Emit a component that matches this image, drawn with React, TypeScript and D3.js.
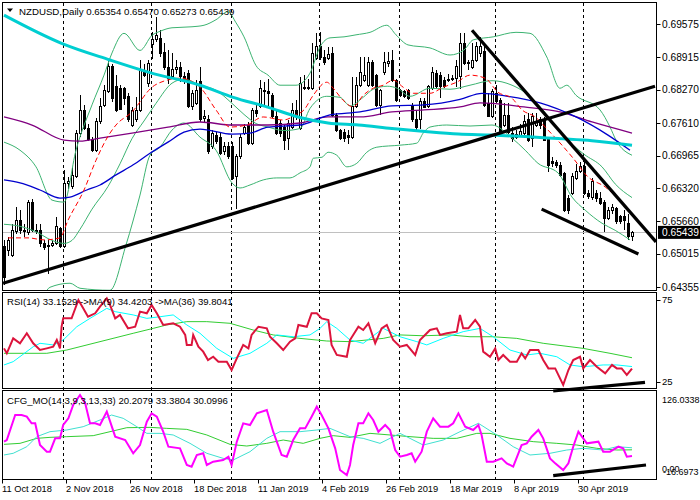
import * as d3 from "d3";

type Pt = [number, number];

// daily candles, NZDUSD: [open, high, low, close]
const candles: [number, number, number, number][] = [
  [0.6515, 0.6528, 0.6439, 0.6455], [0.6508, 0.6535, 0.6498, 0.6528], [0.6498, 0.6561, 0.6495, 0.6548],
  [0.6545, 0.6594, 0.6541, 0.6568], [0.6568, 0.6588, 0.6541, 0.6548], [0.6548, 0.6561, 0.6535, 0.6545],
  [0.6543, 0.6608, 0.6538, 0.6604], [0.6604, 0.6611, 0.6545, 0.6548], [0.6548, 0.6561, 0.6541, 0.6545],
  [0.6548, 0.6561, 0.6515, 0.6522], [0.6522, 0.6528, 0.6508, 0.6514], [0.6515, 0.6528, 0.6462, 0.6518],
  [0.6518, 0.6528, 0.6515, 0.6522], [0.6522, 0.6575, 0.6518, 0.6555], [0.6551, 0.6555, 0.6512, 0.6515],
  [0.6515, 0.6667, 0.6512, 0.6641], [0.6641, 0.6654, 0.6631, 0.6644], [0.6634, 0.6674, 0.6631, 0.6657],
  [0.6654, 0.6747, 0.6651, 0.674], [0.674, 0.6816, 0.6733, 0.6786], [0.6786, 0.6796, 0.6747, 0.675],
  [0.675, 0.676, 0.6725, 0.6728], [0.6728, 0.6733, 0.6704, 0.6707], [0.6707, 0.677, 0.6704, 0.6763],
  [0.6763, 0.681, 0.676, 0.6793], [0.6796, 0.6836, 0.6793, 0.6826], [0.6823, 0.6886, 0.682, 0.6874],
  [0.6874, 0.6879, 0.6803, 0.681], [0.6833, 0.6856, 0.6783, 0.6786], [0.6829, 0.6836, 0.6786, 0.6788],
  [0.6829, 0.6833, 0.6796, 0.681], [0.6813, 0.682, 0.6763, 0.6767], [0.6757, 0.6793, 0.6753, 0.6786],
  [0.6767, 0.6813, 0.6763, 0.6786], [0.6786, 0.6886, 0.6783, 0.6866], [0.6866, 0.6879, 0.6853, 0.6856],
  [0.6839, 0.6886, 0.6833, 0.6879], [0.6916, 0.6942, 0.6889, 0.6927], [0.6926, 0.6972, 0.6922, 0.6934],
  [0.6929, 0.6945, 0.6892, 0.6898], [0.69, 0.6919, 0.6867, 0.6871], [0.6871, 0.6906, 0.6839, 0.6849],
  [0.6853, 0.6899, 0.6849, 0.6867], [0.6867, 0.6886, 0.6859, 0.6871], [0.6872, 0.6882, 0.6843, 0.6853],
  [0.6854, 0.6862, 0.6839, 0.6846], [0.6859, 0.6866, 0.679, 0.6793], [0.6793, 0.6826, 0.6786, 0.682],
  [0.68, 0.6846, 0.6796, 0.6826], [0.6843, 0.6872, 0.6763, 0.6767], [0.677, 0.6786, 0.6763, 0.6773],
  [0.6767, 0.6776, 0.67, 0.6704], [0.6714, 0.6747, 0.671, 0.674], [0.6737, 0.6743, 0.672, 0.6724],
  [0.6733, 0.6743, 0.6697, 0.67], [0.6704, 0.6724, 0.6697, 0.6714], [0.6714, 0.6724, 0.669, 0.6694],
  [0.6714, 0.6724, 0.6647, 0.6651], [0.6654, 0.67, 0.6591, 0.6694], [0.6694, 0.674, 0.669, 0.6733],
  [0.674, 0.676, 0.6737, 0.6753], [0.6757, 0.6763, 0.6717, 0.672], [0.672, 0.679, 0.6717, 0.6786],
  [0.6786, 0.6796, 0.6773, 0.678], [0.6793, 0.6846, 0.679, 0.6829], [0.6826, 0.6843, 0.6796, 0.6823],
  [0.6823, 0.6849, 0.6793, 0.682], [0.6816, 0.682, 0.677, 0.6773], [0.6773, 0.6786, 0.6737, 0.674],
  [0.676, 0.6767, 0.6733, 0.674], [0.6753, 0.676, 0.6707, 0.6727], [0.673, 0.6767, 0.6707, 0.676],
  [0.6753, 0.68, 0.675, 0.6786], [0.6786, 0.6806, 0.6767, 0.6773], [0.675, 0.6853, 0.6747, 0.6839],
  [0.6831, 0.6856, 0.6826, 0.6829], [0.6829, 0.6849, 0.6826, 0.6831], [0.6829, 0.6919, 0.6826, 0.6899],
  [0.6889, 0.6939, 0.6886, 0.6912], [0.6912, 0.6942, 0.6886, 0.6892], [0.6892, 0.6906, 0.6876, 0.6882],
  [0.6889, 0.6912, 0.6886, 0.6896], [0.6899, 0.6912, 0.6773, 0.6776], [0.6776, 0.678, 0.6743, 0.6747],
  [0.6747, 0.675, 0.6727, 0.673], [0.6743, 0.675, 0.6724, 0.673], [0.6737, 0.6747, 0.672, 0.6732],
  [0.6733, 0.6853, 0.673, 0.6793], [0.6793, 0.6853, 0.679, 0.6836], [0.6836, 0.6892, 0.6833, 0.6862],
  [0.6846, 0.6892, 0.6843, 0.6856], [0.6836, 0.6892, 0.6833, 0.6882], [0.6882, 0.6886, 0.6833, 0.6836],
  [0.6856, 0.6859, 0.6793, 0.6796], [0.6796, 0.6829, 0.6776, 0.6826], [0.6862, 0.6902, 0.6856, 0.6882],
  [0.6879, 0.6902, 0.6872, 0.6884], [0.6886, 0.6906, 0.6843, 0.6846], [0.6846, 0.6849, 0.6803, 0.6806],
  [0.6826, 0.6829, 0.6813, 0.6816], [0.6823, 0.6826, 0.681, 0.6813], [0.6826, 0.6829, 0.6806, 0.681],
  [0.6796, 0.68, 0.6763, 0.6767], [0.6767, 0.6786, 0.6747, 0.6753], [0.6767, 0.681, 0.675, 0.6803],
  [0.6803, 0.681, 0.679, 0.6792], [0.6793, 0.6836, 0.679, 0.6833], [0.6829, 0.6872, 0.6826, 0.6862],
  [0.6859, 0.6866, 0.6829, 0.6833], [0.6856, 0.6862, 0.681, 0.6833], [0.6846, 0.6853, 0.6831, 0.6833],
  [0.6846, 0.6859, 0.6843, 0.6848], [0.6847, 0.6856, 0.6845, 0.6849], [0.6849, 0.6886, 0.6833, 0.6874],
  [0.6853, 0.6939, 0.6829, 0.6919], [0.6919, 0.6939, 0.6876, 0.6879], [0.6879, 0.6886, 0.6866, 0.6882],
  [0.6872, 0.6919, 0.6869, 0.6886], [0.6886, 0.6922, 0.6882, 0.6912], [0.6899, 0.6932, 0.6892, 0.6912],
  [0.6902, 0.6919, 0.6793, 0.6796], [0.68, 0.682, 0.6772, 0.6773], [0.6773, 0.6829, 0.677, 0.6823],
  [0.682, 0.6836, 0.68, 0.6803], [0.6806, 0.681, 0.6739, 0.674], [0.6757, 0.68, 0.6753, 0.6776],
  [0.6776, 0.68, 0.674, 0.6743], [0.674, 0.6753, 0.6724, 0.673], [0.6739, 0.6747, 0.673, 0.6733],
  [0.6737, 0.676, 0.6733, 0.6745], [0.674, 0.6776, 0.6737, 0.6763], [0.6767, 0.678, 0.6724, 0.6727],
  [0.673, 0.678, 0.6714, 0.6773], [0.6757, 0.678, 0.6753, 0.6763], [0.6767, 0.6773, 0.675, 0.6757],
  [0.6767, 0.6773, 0.6725, 0.6727], [0.673, 0.6733, 0.6664, 0.6677], [0.6684, 0.6694, 0.6674, 0.668],
  [0.6682, 0.6687, 0.6671, 0.6677], [0.6677, 0.6684, 0.6654, 0.6657], [0.6661, 0.6664, 0.6584, 0.6588],
  [0.6611, 0.6618, 0.6581, 0.6588], [0.6621, 0.6661, 0.6618, 0.6654], [0.6651, 0.668, 0.6647, 0.6664],
  [0.6664, 0.6684, 0.6661, 0.6674], [0.6674, 0.6684, 0.6618, 0.6621], [0.6621, 0.6628, 0.6611, 0.6616],
  [0.6614, 0.6651, 0.6608, 0.6644], [0.6621, 0.6628, 0.6604, 0.6611], [0.6611, 0.6624, 0.6598, 0.6601],
  [0.6604, 0.6608, 0.6545, 0.6571], [0.6571, 0.6594, 0.6568, 0.6588], [0.6588, 0.6601, 0.6581, 0.6594],
  [0.6591, 0.6594, 0.6561, 0.6565], [0.6575, 0.6578, 0.6561, 0.6565], [0.6575, 0.6588, 0.6548, 0.6568],
  [0.6561, 0.6581, 0.6528, 0.6535], [0.65354, 0.6547, 0.65273, 0.65439],
];

// moving averages, read at [bar, price]
const maCyan: Pt[] = [
  [0, 0.6975], [14.4, 0.6919], [26.5, 0.6886], [36.5, 0.6861], [49, 0.6836], [57.3, 0.6812],
  [65.7, 0.6793], [74, 0.6772], [81, 0.6761], [88.6, 0.6757], [97, 0.675], [105.3, 0.6744],
  [113.6, 0.6739], [122, 0.6737], [130.3, 0.6734], [138.6, 0.673], [147, 0.6726], [157, 0.6717],
];
const maPurple: Pt[] = [
  [0, 0.6773], [7, 0.6757], [15, 0.6727], [19, 0.6725], [24, 0.6731], [32, 0.6741], [41, 0.6753],
  [49, 0.6763], [57, 0.6757], [66, 0.6757], [74, 0.6761], [81, 0.6773], [89, 0.6773], [97, 0.6783],
  [105, 0.6787], [114, 0.6793], [119, 0.6801], [130, 0.6793], [139, 0.6783], [147, 0.6763], [157, 0.6741],
];
const maBlue: Pt[] = [
  [0, 0.6648], [4, 0.6642], [9, 0.6628], [14, 0.6612], [16.5, 0.6614], [20.7, 0.6628], [24, 0.6638],
  [28, 0.6658], [32.3, 0.6678], [36.5, 0.6701], [41, 0.6723], [45, 0.6743], [49, 0.6749], [57, 0.6739],
  [61.5, 0.6741], [66, 0.6753], [74, 0.6757], [81.5, 0.6777], [89, 0.6783], [97, 0.6795], [105, 0.6797],
  [114, 0.6808], [119.5, 0.682], [126, 0.6814], [134, 0.6801], [143, 0.6773], [151, 0.6737], [156.5, 0.6707],
];
const maRed: Pt[] = [
  [1, 0.6533], [6, 0.6533], [10, 0.6529], [14, 0.6533], [16, 0.6568], [20, 0.6628], [23, 0.6687],
  [26.5, 0.6741], [28, 0.6757], [32, 0.6783], [37, 0.6832], [40.7, 0.6846], [44, 0.685], [49, 0.6832],
  [53, 0.6787], [56.5, 0.6753], [60.7, 0.6757], [64.8, 0.6773], [69.8, 0.6767], [73, 0.6777],
  [75, 0.6787], [77.3, 0.6816], [80.7, 0.6842], [82.3, 0.683], [84.8, 0.6806], [87.3, 0.6793],
  [89.8, 0.6816], [92.3, 0.683], [94.8, 0.6836], [97.3, 0.6846], [99.8, 0.6832], [102.3, 0.682],
  [106.5, 0.682], [109.8, 0.6832], [113.2, 0.6842], [116.5, 0.6856], [120.3, 0.685], [123.5, 0.6822],
  [127, 0.681], [129.5, 0.6787], [132.8, 0.6773], [136, 0.6747], [139.5, 0.6717], [142.3, 0.6691],
  [146, 0.6654], [150.3, 0.6634], [156, 0.6588],
];

// Bollinger bands
const bbUpper: Pt[] = [
  [0, 0.6723], [4, 0.6707], [8, 0.6674], [12, 0.6608], [15, 0.6604], [18, 0.6707], [22, 0.6797],
  [25, 0.6856], [27, 0.69], [30, 0.6939], [34, 0.6905], [37, 0.6935], [39, 0.6943], [42, 0.6950],
  [47, 0.6952], [50, 0.6955], [53, 0.6966], [56, 0.6982], [58, 0.696], [60, 0.6932], [63, 0.6875],
  [66, 0.6856], [69, 0.6836], [73, 0.6836], [76.5, 0.686],
  [79, 0.6912], [81.5, 0.693], [85, 0.6932], [88, 0.6936], [91.5, 0.6941], [95.7, 0.6955], [98, 0.6936],
  [101, 0.6916], [106.5, 0.691], [111.5, 0.6896], [115, 0.6906], [117.3, 0.6926], [122.3, 0.6932],
  [128, 0.6941], [131.5, 0.6939], [135.7, 0.6892], [139, 0.683], [140.7, 0.6836], [143, 0.6816],
  [149, 0.6787], [151.5, 0.6753], [153, 0.6727], [157, 0.6697],
];
const bbMiddle: Pt[] = [
  [0, 0.656], [4, 0.6556], [8, 0.6545], [12, 0.6528], [15, 0.6522], [17, 0.6528], [19, 0.655],
  [22, 0.659], [26, 0.6635], [29, 0.668], [32, 0.673], [35, 0.6765], [38, 0.68], [42, 0.684],
  [45, 0.6848], [49, 0.6836], [53, 0.6826], [57, 0.68], [60, 0.6778], [63, 0.676], [66, 0.6753],
  [70, 0.6746], [74, 0.675], [76.5, 0.679], [80.7, 0.6814], [84, 0.6812], [86.5, 0.6795], [89.8, 0.6812],
  [92.3, 0.6828], [95.8, 0.6834], [98.3, 0.683], [101.5, 0.6814], [106.5, 0.683], [111.5, 0.6828],
  [116.5, 0.6836], [122, 0.6845], [127, 0.6836], [130, 0.6823], [133.5, 0.6798], [138.5, 0.6748],
  [142, 0.6719], [145, 0.6699], [149.5, 0.6674], [152.8, 0.664], [157, 0.6613],
];
const bbLower: Pt[] = [
  [0, 0.638], [8, 0.6395], [11.5, 0.6435], [16.5, 0.6443], [19, 0.6433], [26.5, 0.6429], [30.5, 0.6519],
  [34, 0.6618], [36.5, 0.6697], [39, 0.6713], [42, 0.6747], [45, 0.6761], [49, 0.6733], [53, 0.6707],
  [57, 0.6642], [59, 0.6632], [61.5, 0.6638], [64.8, 0.6648], [68.2, 0.6652], [71.5, 0.6652], [74, 0.6662],
  [76.5, 0.6674], [77.3, 0.6691], [79.5, 0.6693], [81, 0.6703], [83.2, 0.6697], [85.7, 0.6674],
  [88.2, 0.6681], [90.7, 0.6703], [93.2, 0.6713], [99, 0.6717], [103.2, 0.6721], [104.8, 0.6741],
  [106.5, 0.6753], [110.7, 0.6757], [116.5, 0.6755], [122, 0.6757], [127, 0.6731], [130.3, 0.6707],
  [133.5, 0.6681], [138.5, 0.6662], [142, 0.6614], [145.3, 0.6588], [149.5, 0.6562], [152.8, 0.6548],
  [156.5, 0.6529],
];

// RSI(14) with its MA(9) and MA(36)
const rsi: Pt[] = [
  [0, 45.5], [0.7, 42.5], [2.3, 51.6], [4, 48.6], [5.7, 54.7], [7.3, 48.6], [9, 44.5], [10.7, 45.5],
  [12.3, 46.5], [13.2, 50.6], [14, 45.5], [14.4, 58.7], [14.8, 63.8], [16.9, 63.8], [18.6, 75], [19.8, 69.9],
  [21, 64.8], [22.8, 66.9], [24, 70.9], [25.7, 76], [26.5, 72], [27.8, 63.8], [29, 65.9], [31, 57.7],
  [32.8, 58.7], [34, 67.9], [35.7, 66.9], [36.9, 72], [38.2, 66.9], [39.8, 59.8], [42.3, 60.8], [44, 58.7],
  [45.3, 53.7], [45.7, 47.6], [46.9, 47.6], [47.3, 53.7], [48.6, 46.5], [49.8, 43.5], [51, 38.4], [52.3, 40.4],
  [53.6, 37.4], [55.7, 37.4], [56.9, 32.3], [58.2, 39.4], [59.8, 47.6], [61.1, 45.5], [61.9, 53.7], [63.6, 58.7],
  [65.7, 57.7], [66.5, 52.6], [68.2, 48.6], [69.8, 44.5], [71.5, 49.6], [72.8, 51.6], [73.6, 59.8], [75.7, 58.7],
  [76.9, 66.9], [78.2, 66.9], [79.4, 63.8], [81.1, 62.8], [81.9, 47.6], [83.2, 41.5], [85.7, 40.4], [86.5, 50.6],
  [88.6, 58.7], [89.8, 56.7], [91.1, 60.8], [92.8, 48.6], [94.4, 57.7], [95.7, 59.8], [97.3, 50.6], [99, 46.5],
  [100.7, 47.6], [102.8, 41.5], [104, 50.6], [106.5, 56.7], [108.2, 57.7], [109, 53.7], [110.7, 54.7],
  [113.2, 55.7], [114, 65.9], [114.8, 57.7], [116.1, 57.7], [117.8, 62.8], [119, 58.7], [119.8, 43.5],
  [121.5, 40.4], [122.8, 45.5], [123.6, 38.4], [124.8, 41.5], [126.5, 37.4], [128.2, 37.4], [129.4, 42.5],
  [130.3, 39.4], [131.5, 44.5], [133.6, 44.5], [134.8, 38.4], [136.1, 33.3], [137.8, 33.3], [139.8, 23.2],
  [141.1, 32.3], [142.3, 38.4], [144, 40.4], [144.8, 33.3], [146.5, 38.4], [148.2, 34.3], [150.3, 30.3],
  [152, 35.4], [153.2, 33.3], [154.4, 33.3], [155.7, 29.3], [157, 33.15],
];
const rsiMa9: Pt[] = [
  [0, 35.4], [2.3, 37.4], [7.3, 46.5], [9, 48.6], [12.3, 47.6], [14.8, 50.6], [18.2, 58.7], [21.5, 63.8],
  [25.7, 69.9], [27.8, 67.9], [32.3, 65.9], [35.7, 63.8], [39, 64.8], [42.3, 65.9], [45.7, 59.8], [49, 54.7],
  [53.2, 45.5], [57.3, 39.4], [61.5, 42.5], [65.7, 48.6], [68.2, 53.7], [72.3, 52.6], [76.5, 53.7], [79, 57.7],
  [80.7, 61.8], [83.2, 57.7], [86.5, 50.6], [89.8, 48.6], [94.8, 57.7], [99, 52.6], [103.2, 49.6], [105.7, 47.6],
  [109.8, 51.6], [114.8, 55.7], [119, 57.7], [122.3, 52.6], [126.5, 44.5], [130.7, 41.5], [134, 42.5],
  [138.2, 40.4], [141.5, 35.4], [144.8, 34.3], [149.8, 35.4], [153.2, 35.4], [157, 34.42],
];
const rsiMa36: Pt[] = [
  [0, 42.5], [10.7, 42.5], [15.7, 44.5], [24, 49.6], [32.3, 54.7], [37.3, 57.7], [40.7, 59.8], [45.7, 61.8],
  [50.7, 61.8], [56.5, 60.8], [62.3, 56.7], [67.3, 53.7], [74, 51.6], [80.7, 50], [86.5, 49.6], [94.8, 51.6],
  [99, 53.7], [104.8, 53.2], [111.5, 53.7], [116.5, 52.6], [122.3, 52.6], [128.2, 51.6], [134.8, 48.6],
  [144.8, 45.5], [151.5, 42.5], [157, 39.8],
];

// CFG_MO(14,3,9,3,13,33) and its two signal lines
const mo: Pt[] = [
  [0, 43.2], [0.7, 45.8], [2.8, 85.9], [4.4, 85.9], [5.7, 83.3], [6.9, 72.6], [7.8, 72.6], [9, 37.8],
  [10.7, 27.1], [11.5, 27.1], [12.8, 48.5], [14, 48.5], [14.8, 69.9], [16.1, 80.6], [17.3, 102], [19, 118],
  [20.3, 104.6], [21.5, 72.6], [22.8, 72.6], [24, 69.9], [25.7, 91.3], [27.8, 51.2], [30.3, 45.8], [32.3, 24.5],
  [34, 37.8], [35.7, 75.2], [36.9, 88.6], [38.2, 83.3], [39.8, 59.2], [41.1, 35.1], [44, 32.5], [45.7, 5.8],
  [46.9, 3.1], [48.2, 21.8], [49.8, 24.5], [50.7, 5.8], [52.3, 11.1], [54.8, 13.8], [56.1, 19.1], [56.9, 5.8],
  [58.2, 43.2], [59.8, 72.6], [61.5, 69.9], [63.2, 88.6], [65.7, 93.9], [67.3, 59.2], [69.4, 21.8], [70.7, 19.1],
  [72.3, 45.8], [74, 64.5], [75.3, 64.5], [76.9, 83.3], [78.2, 99.3], [79.4, 85.9], [81.1, 64.5], [82.8, 32.5],
  [84, -2.3], [85.7, -10.3], [86.5, 5.8], [87.3, 37.8], [88.6, 72.6], [89.8, 72.6], [91.1, 88.6], [92.3, 77.9],
  [93.6, 59.2], [95.3, 69.9], [96.5, 61.9], [97.8, 29.8], [99, 19.1], [100.7, 21.8], [101.9, 24.5],
  [102.8, 11.1], [104.4, 27.1], [105.7, 59.2], [107.3, 80.6], [109, 67.2], [111.1, 67.2], [112.3, 72.6],
  [113.6, 88.6], [115.3, 67.2], [117.3, 61.9], [118.6, 69.9], [119.4, 53.9], [120.7, 11.1], [122.3, 11.1],
  [124.4, 16.4], [125.7, 8.4], [127.3, 3.1], [128.6, 24.5], [129.4, 37.8], [130.7, 40.5], [131.9, 51.2],
  [133.6, 61.9], [134.8, 48.5], [136.5, 16.4], [137.8, 8.4], [139.8, -2.3], [141.1, 8.4], [142.3, 35.1],
  [143.6, 59.2], [144.8, 48.5], [145.7, 40.5], [148.6, 43.2], [149.8, 27.1], [151.5, 27.1], [153.6, 35.1],
  [154.8, 32.5], [155.7, 19.1], [157, 20.21],
];
const moSignal: Pt[] = [
  [0, 21.8], [2.3, 24.5], [5.7, 35.1], [8.2, 51.2], [11.5, 59.2], [15.7, 61.9], [19.8, 67.2], [24, 77.9],
  [26.9, 85.9], [29.8, 80.6], [33.2, 67.2], [35.7, 56.5], [39, 56.5], [42.3, 53.9], [46.5, 40.5], [50.7, 24.5],
  [54.8, 16.4], [57.3, 13.8], [61.5, 27.1], [65.7, 48.5], [69, 59.2], [74, 59.2], [78.2, 61.9], [81.5, 64.5],
  [86.5, 51.2], [89.8, 48.5], [94, 40.5], [99, 56.5], [104.8, 37.8], [109.8, 45.8], [114, 59.2], [118.6, 72.6],
  [123.2, 53.9], [127.3, 35.1], [131.5, 21.8], [136.5, 24.5], [140.7, 29.8], [144.8, 32.5], [149.8, 29.8],
  [153.2, 35.1], [157, 33.38],
];
const moSlow: Pt[] = [
  [0, 38.9], [4, 40.5], [8.2, 48.5], [11.5, 50.1], [15.7, 51.2], [22.3, 52.8], [26.5, 59.2], [30.7, 65.6],
  [36.5, 66.1], [40.7, 64.5], [45.7, 62.9], [50.7, 53.9], [56.5, 38.9], [60.7, 36.2], [65.7, 40.5],
  [69.8, 45.8], [74.8, 40.5], [79, 48.5], [82.3, 52.8], [86.5, 50.1], [91.5, 56.5], [96.5, 53.9],
  [101.5, 51.2], [107.3, 48.5], [113.2, 48.5], [118.2, 56.5], [121.5, 56.5], [126.5, 48.5], [132.3, 43.2],
  [138.2, 40.5], [143.2, 37.8], [148.2, 32.5], [153.2, 29.8], [157, 30.1],
];

// hand-drawn trend lines: [[bar, value], [bar, value]]
const priceTrends: [Pt, Pt][] = [
  [[-0.25, 0.6443], [162.75, 0.6834]],
  [[117, 0.6945], [163, 0.6525]],
  [[134.4, 0.659], [158.6, 0.6501]],
];
const rsiTrend: [Pt, Pt] = [[137.3, 19.5], [160.25, 24.8]];
const moTrend: [Pt, Pt] = [[137.3, -11.4], [160.5, 5.75]];

const priceTicks = [0.69575, 0.68915, 0.6827, 0.6761, 0.66965, 0.6632, 0.6566, 0.65015, 0.64355];
const rsiTicks = [75, 25];
const moTop = 126.0338;
const moBottom = -16.6973;
const dateLabels: [number, string][] = [
  [0, "11 Oct 2018"], [16, "2 Nov 2018"], [32, "26 Nov 2018"], [48, "18 Dec 2018"], [64, "11 Jan 2019"],
  [80, "4 Feb 2019"], [96, "26 Feb 2019"], [112, "18 Mar 2019"], [128, "8 Apr 2019"], [144, "30 Apr 2019"],
];
const monthGrid = [15, 37, 57, 79, 99, 123, 145];
const lastPrice = 0.65439;

const W = 700;
const H = 500;
const L = 2.5;
const R = 656.5;
const mainP = { top: 2.5, bottom: 290.5 };
const rsiP = { top: 292.5, bottom: 388.5 };
const moP = { top: 390.5, bottom: 479.5 };
const FONT = "Liberation Sans, Arial, sans-serif";

export default function App() {
  const x = d3.scaleLinear().domain([0, 157]).range([4, 632]);
  const yMain = d3.scaleLinear().domain([0.64355, 0.69575]).range([287, 24]);
  const yRsi = d3.scaleLinear().domain([25, 75]).range([382, 300]);
  const yMo = d3.scaleLinear().domain([moBottom, moTop]).range([479, 390]);

  const smooth = (ys: d3.ScaleLinear<number, number>) =>
    d3.line<Pt>().x((d) => x(d[0])).y((d) => ys(d[1])).curve(d3.curveMonotoneX);
  const straight = (ys: d3.ScaleLinear<number, number>) =>
    d3.line<Pt>().x((d) => x(d[0])).y((d) => ys(d[1]));

  const pm = smooth(yMain);
  const seg = straight(yMain);
  const fmt5 = d3.format(".5f");
  const crisp = (v: number) => Math.round(v) + 0.5;

  return (
    <div style={{ position: "fixed", left: 0, top: 0 }}>
      <svg width={W} height={H} style={{ display: "block", background: "#fff" }} fontFamily={FONT}>
        <defs>
          <clipPath id="clipMain">
            <rect x={L} y={mainP.top} width={R - L} height={mainP.bottom - mainP.top} />
          </clipPath>
        </defs>

        {/* month separators */}
        {monthGrid.map((b) => {
          const gx = Math.round(x(b)) - 0.5;
          return (
            <line key={b} x1={gx} x2={gx} y1={mainP.top} y2={moP.bottom} stroke="#000"
              strokeDasharray="3,3" shapeRendering="crispEdges" />
          );
        })}

        <line x1={L} x2={R} y1={crisp(yMain(lastPrice))} y2={crisp(yMain(lastPrice))} stroke="#c0c0c0" />

        <g clipPath="url(#clipMain)">
          {candles.map(([o, h, l, c], i) => {
            const px = crisp(x(i));
            const up = c >= o;
            const top = yMain(Math.max(o, c));
            const bot = yMain(Math.min(o, c));
            return (
              <g key={i} shapeRendering="crispEdges">
                <line x1={px} x2={px} y1={yMain(h)} y2={yMain(l)} stroke="#000" />
                <rect x={px - 1} y={top} width={2} height={Math.max(bot - top, 0.01)}
                  fill={up ? "#fff" : "#000"} stroke="#000" />
              </g>
            );
          })}

          <path d={pm(bbUpper) ?? ""} fill="none" stroke="#3cb371" strokeWidth={1} />
          <path d={pm(bbMiddle) ?? ""} fill="none" stroke="#3cb371" strokeWidth={1} />
          <path d={pm(bbLower) ?? ""} fill="none" stroke="#3cb371" strokeWidth={1} />
          <path d={pm(maPurple) ?? ""} fill="none" stroke="#800080" strokeWidth={1.3} />
          <path d={pm(maBlue) ?? ""} fill="none" stroke="#0000cd" strokeWidth={1.3} />
          <path d={pm(maRed) ?? ""} fill="none" stroke="#ff0000" strokeWidth={1} strokeDasharray="5,3" />
          <path d={pm(maCyan) ?? ""} fill="none" stroke="#00ced1" strokeWidth={3} />
        </g>

        {priceTrends.map((t, k) => (
          <path key={k} d={seg(t) ?? ""} stroke="#000" strokeWidth={3.2} fill="none" />
        ))}

        {/* RSI pane */}
        <path d={straight(yRsi)(rsiMa36) ?? ""} fill="none" stroke="#32cd32" strokeWidth={1} />
        <path d={straight(yRsi)(rsiMa9) ?? ""} fill="none" stroke="#00ffff" strokeWidth={1} />
        <path d={straight(yRsi)(rsi) ?? ""} fill="none" stroke="#dc143c" strokeWidth={2} />
        <path d={straight(yRsi)(rsiTrend) ?? ""} fill="none" stroke="#000" strokeWidth={3.2} />

        {/* CFG_MO pane */}
        <path d={straight(yMo)(moSlow) ?? ""} fill="none" stroke="#32cd32" strokeWidth={1} />
        <path d={straight(yMo)(moSignal) ?? ""} fill="none" stroke="#40e0d0" strokeWidth={1} />
        <path d={straight(yMo)(mo) ?? ""} fill="none" stroke="#ff00ff" strokeWidth={2} />
        <path d={straight(yMo)(moTrend) ?? ""} fill="none" stroke="#000" strokeWidth={3.2} />

        {/* pane frames */}
        {[mainP, rsiP, moP].map((p, k) => (
          <rect key={k} x={L} y={p.top} width={R - L} height={p.bottom - p.top} fill="none"
            stroke="#000" shapeRendering="crispEdges" />
        ))}

        {/* price axis */}
        {priceTicks.map((v) => (
          <g key={v}>
            <line x1={R} x2={R + 4} y1={crisp(yMain(v))} y2={crisp(yMain(v))} stroke="#000" />
            <text x={662} y={yMain(v)} dy="0.35em" fontSize={10.2} fill="#000">{fmt5(v)}</text>
          </g>
        ))}
        <rect x={658} y={yMain(lastPrice) - 6.5} width={42} height={13} fill="#000" />
        <text x={662} y={yMain(lastPrice)} dy="0.35em" fontSize={10.2} fill="#fff">{fmt5(lastPrice)}</text>

        {rsiTicks.map((v) => (
          <g key={v}>
            <line x1={R} x2={R + 4} y1={crisp(yRsi(v))} y2={crisp(yRsi(v))} stroke="#000" />
            <text x={662} y={yRsi(v)} dy="0.35em" fontSize={9.5}>{v}</text>
          </g>
        ))}
        <text x={662} y={yMo(moTop) + 10} dy="0.35em" fontSize={9}>{moTop.toFixed(4)}</text>
        <text x={662} y={yMo(0)} dy="0.35em" fontSize={9}>0.00</text>
        <text x={663} y={yMo(moBottom) - 7} dy="0.35em" fontSize={9}>{moBottom.toFixed(4)}</text>

        {/* time axis */}
        {dateLabels.map(([b, s]) => (
          <g key={s}>
            <line x1={Math.round(x(b)) - 1.5} x2={Math.round(x(b)) - 1.5} y1={moP.bottom} y2={moP.bottom + 4} stroke="#000" />
            <text x={x(b) - 2} y={492} fontSize={9.3}>{s}</text>
          </g>
        ))}

        {/* labels */}
        <path d="M7,8.5 L13,8.5 L10,12 Z" fill="#000" />
        <text x={19} y={14.5} fontSize={9.7}>NZDUSD,Daily  0.65354 0.65470 0.65273 0.65439</text>
        <text x={7} y={304.5} fontSize={9.6}>RSI(14) 33.1529 -&gt;MA(9) 34.4203 -&gt;MA(36) 39.8041</text>
        <text x={7} y={403.5} fontSize={9.6}>CFG_MO(14,3,9,3,13,33) 20.2079 33.3804 30.0996</text>
      </svg>
    </div>
  );
}
